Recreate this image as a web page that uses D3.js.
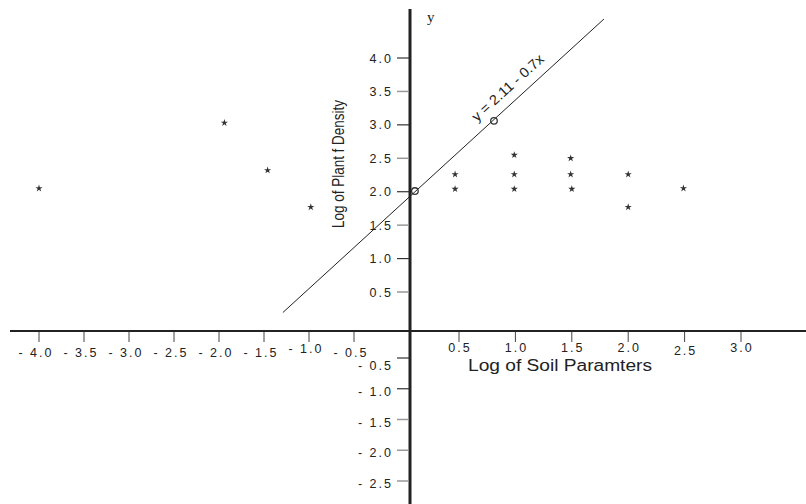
<!DOCTYPE html>
<html><head><meta charset="utf-8">
<script src="https://cdn.jsdelivr.net/npm/d3@7"></script>
<style>body{margin:0;background:#fff}svg{display:block}</style>
</head><body>
<svg id="c" width="806" height="504"></svg>
<script>
// ---- data ----
const xTickValues = [-4.0, -3.5, -3.0, -2.5, -2.0, -1.5, -1.0, -0.5, 0.5, 1.0, 1.5, 2.0, 2.5, 3.0];
const yTickValues = [4.0, 3.5, 3.0, 2.5, 2.0, 1.5, 1.0, 0.5, -0.5, -1.0, -1.5, -2.0, -2.5];
const yTickGray = [false, true, false, true, false, true, false, true, false, false, true, true, true];
const pointX = [-4.0, -1.94, -1.46, -0.98, 0.46, 0.46, 0.99, 0.99, 0.99, 1.49, 1.49, 1.50, 2.0, 2.0, 2.49];
const pointY = [2.05, 3.03, 2.32, 1.77, 2.26, 2.04, 2.55, 2.26, 2.04, 2.50, 2.26, 2.04, 2.26, 1.77, 2.05];
const lineX = [-1.29, 1.785];
const lineY = [0.237, 4.583];
const circleX = [0.05, 0.81];
const circleY = [2.01, 3.06];
const equation = "y = 2.11 - 0.7x";
const xTitle = "Log of Soil Paramters";
const yTitle = "Log of Plant f Density";
const yName = "y";

const fmt = v => v < 0 ? "- " + Math.abs(v).toFixed(1) : v.toFixed(1);

// ---- scales (axes are drawn with different unit lengths on each side) ----
const x = d3.scaleLinear().domain([-4, -0.5, 0, 0.5, 3.0]).range([39, 354, 410, 459, 741]);
const y = d3.scaleLinear().domain([-2.5, -0.5, 0, 0.5, 4.0]).range([481, 358, 331, 292, 58]);

const svg = d3.select("#c");
const ink = "#222";
const sans = "Liberation Sans, Arial, sans-serif";

// horizontal axis
svg.append("line").attr("x1", 10).attr("x2", 806).attr("y1", y(0)).attr("y2", y(0))
  .attr("stroke", ink).attr("stroke-width", 2);
// vertical axis
svg.append("line").attr("x1", x(0)).attr("x2", x(0)).attr("y1", 9).attr("y2", 504)
  .attr("stroke", ink).attr("stroke-width", 3);

// x ticks
const xt = svg.append("g").selectAll("g").data(xTickValues).join("g");
xt.append("line").attr("x1", d => x(d)).attr("x2", d => x(d))
  .attr("y1", y(0) + 1).attr("y2", y(0) + 11).attr("stroke", "#444").attr("stroke-width", 1);
xt.append("text").attr("x", d => x(d) + (d < 0 ? -3 : 1))
  .attr("y", d => d === -1.0 ? 353 : (d === 2.5 ? 355 : (d < 0 ? 357 : 352)))
  .attr("text-anchor", "middle").attr("font-family", sans)
  .attr("font-size", 12.5).attr("letter-spacing", 2).attr("fill", ink).text(fmt);

// y ticks
const yt = svg.append("g").selectAll("g").data(yTickValues).join("g");
yt.append("line").attr("x1", 397).attr("x2", x(0) - 1).attr("y1", d => y(d)).attr("y2", d => y(d))
  .attr("stroke", (d, i) => yTickGray[i] ? "#999" : "#333").attr("stroke-width", (d, i) => yTickGray[i] ? 1.5 : 1.2);
yt.append("text").attr("x", 393)
  .attr("y", d => y(d) + 4.5 + (d === -0.5 ? 7 : (d < 0 ? 2.5 : 0)))
  .attr("text-anchor", "end").attr("font-family", sans)
  .attr("font-size", 12.5).attr("letter-spacing", 2).attr("fill", ink).text(fmt);

// regression line
svg.append("line").attr("x1", x(lineX[0])).attr("y1", y(lineY[0]))
  .attr("x2", x(lineX[1])).attr("y2", y(lineY[1])).attr("stroke", ink).attr("stroke-width", 1);

// circles on the line
svg.append("g").selectAll("circle").data(circleX).join("circle")
  .attr("cx", d => x(d)).attr("cy", (d, i) => y(circleY[i])).attr("r", 3.3)
  .attr("fill", "none").attr("stroke", "#333").attr("stroke-width", 1.3);

// star points
const star = d3.symbol().type(d3.symbolStar).size(16);
svg.append("g").selectAll("path").data(pointX).join("path")
  .attr("transform", (d, i) => `translate(${x(d)},${y(pointY[i])})`)
  .attr("d", star).attr("fill", "#333");

// equation label along the line
{
  const x1 = x(lineX[0]), y1 = y(lineY[0]), x2 = x(lineX[1]), y2 = y(lineY[1]);
  const ang = Math.atan2(y2 - y1, x2 - x1);
  const f = 0.73;
  const px = x1 + f * (x2 - x1), py = y1 + f * (y2 - y1);
  const nx = Math.sin(ang), ny = -Math.cos(ang); // normal pointing up-left
  svg.append("text")
    .attr("transform", `translate(${px + nx * 9.5},${py + ny * 9.5}) rotate(${ang * 180 / Math.PI})`)
    .attr("text-anchor", "middle").attr("font-family", sans)
    .attr("font-size", 14).attr("textLength", 92).attr("lengthAdjust", "spacingAndGlyphs")
    .attr("fill", ink).text(equation);
}

// axis titles
svg.append("text").attr("x", 468).attr("y", 371)
  .attr("font-family", sans).attr("font-size", 16)
  .attr("textLength", 184).attr("lengthAdjust", "spacingAndGlyphs").attr("fill", ink).text(xTitle);

svg.append("text").attr("transform", "translate(344,164) rotate(-90)")
  .attr("text-anchor", "middle").attr("font-family", sans).attr("font-size", 16)
  .attr("textLength", 128).attr("lengthAdjust", "spacingAndGlyphs").attr("fill", ink).text(yTitle);

svg.append("text").attr("x", 427).attr("y", 22)
  .attr("font-family", "Liberation Serif, Times New Roman, serif").attr("font-size", 15)
  .attr("fill", ink).text(yName);
</script>
</body></html>
